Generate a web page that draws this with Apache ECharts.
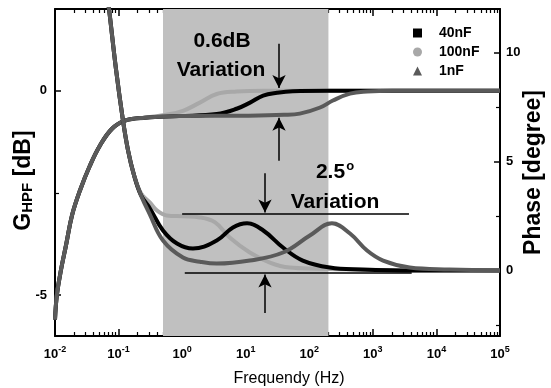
<!DOCTYPE html>
<html>
<head>
<meta charset="utf-8">
<script src="https://cdn.jsdelivr.net/npm/echarts@6/dist/echarts.min.js"></script>
<style>
html,body{margin:0;padding:0;background:#fff;}
#chart{width:551px;height:388px;}
</style>
</head>
<body>
<div id="chart"></div>
<script>
// ---------- data ----------
const seriesNames = ['40nF', '100nF', '1nF'];
const seriesColors = ['#000000', '#a8a8a8', '#5a5a5a'];

// Gain (dB) vs frequency (Hz)
const gainLowFreq = [[0.01,-5.6],[0.0107,-5.0],[0.0124,-4.39],[0.0149,-3.78],[0.0185,-3.05],[0.0247,-2.44],[0.0355,-1.83],[0.051,-1.34],[0.0789,-0.93],[0.126,-0.73],[0.26,-0.66]];
const gain40nF = [[0.9,-0.62],[3.5,-0.57],[7.2,-0.44],[11.7,-0.29],[18.8,-0.12],[31,-0.05],[55,-0.01],[200,0],[100000,0]];
const gain100nF = [[0.5,-0.6],[1.03,-0.49],[1.9,-0.29],[3.5,-0.08],[7.2,-0.02],[20,0],[100000,0]];
const gain1nF = [[0.9,-0.62],[10,-0.61],[40,-0.59],[71,-0.56],[148,-0.41],[235,-0.24],[437,-0.07],[810,-0.02],[2000,0],[100000,0]];

// Phase (degree) vs frequency (Hz)
const phaseHighFreqStart = [[0.05,15.5],[0.0708,12.0],[0.0912,9.22],[0.117,6.91],[0.1406,5.53],[0.175,4.38]];
const phase40nF = [[0.225,3.46],[0.31,2.86],[0.5,1.84],[0.83,1.24],[1.48,1.01],[3.5,1.38],[6.3,1.98],[10.5,2.17],[18.9,1.84],[38.6,1.06],[79,0.46],[211,0.14],[630,0.05],[5000,0],[100000,0]];
const phase100nF = [[0.225,3.55],[0.31,3.13],[0.40,2.76],[0.57,2.53],[1.03,2.49],[1.9,2.44],[3.3,2.21],[5.6,1.52],[11.6,0.83],[24,0.37],[49,0.14],[131,0.09],[630,0.05],[5000,0],[100000,0]];
const phase1nF = [[0.225,3.46],[0.31,2.58],[0.5,1.38],[1.03,0.6],[1.9,0.41],[3.5,0.32],[11.6,0.46],[38.6,0.83],[102,1.61],[227,2.17],[437,1.7],[810,0.92],[1450,0.46],[3800,0.14],[16000,0.05],[100000,0]];

// annotations (data coordinates)
const bandRange = [0.5, 200];
const phaseRefLines = [[[1.0, 2.63],[3700, 2.63]], [[1.1, -0.12],[4080, -0.12]]];
const phaseArrows = [[[20.1, 4.47],[20.1, 2.67]], [[20.1, -1.94],[20.1, -0.18]]];
const gainArrows = [[[33.4, 1.15],[33.4, 0.07]], [[33.4, -1.71],[33.4, -0.66]]];

// axis ticks
const xRangeExp = [-2, 5];
const gainRange = [-6, 2];
const gainMajor = [-5, 0];
const gainMinor = [-2.5];
const phaseRange = [-3, 12];
const phaseMajor = [0, 5, 10];
const phaseMinor = [-2.5, 2.5, 7.5];

// ---------- chart ----------
const FONT = '"Liberation Sans", Arial, sans-serif';
const minorExp = [];
for (let n = xRangeExp[0]; n < xRangeExp[1]; n++) {
  for (let k = 2; k <= 9; k++) minorExp.push(n + Math.log10(k));
}
const majorExp = [];
for (let n = xRangeExp[0]; n <= xRangeExp[1]; n++) majorExp.push(n);

const chart = echarts.init(document.getElementById('chart'), null, {renderer: 'canvas'});

const axisLineStyle = {show: true, onZero: false, lineStyle: {color: '#000', width: 2}};
const noLine = {show: false, onZero: false};

function lineSeries(name, idx, yIdx, data, extra) {
  return Object.assign({
    name: name,
    type: 'line',
    xAxisIndex: 0,
    yAxisIndex: yIdx,
    data: data,
    showSymbol: false,
    symbol: 'none',
    smooth: 0.4,
    lineStyle: {color: seriesColors[idx], width: 4},
    itemStyle: {color: seriesColors[idx]},
    clip: true,
    silent: true,
    animation: false
  }, extra || {});
}

function arrowLines(pairs, withArrow) {
  return pairs.map(p => [
    {coord: p[0], symbol: 'none'},
    {coord: p[1], symbol: withArrow ? 'arrow' : 'none'}
  ]);
}

const markLineBase = {
  silent: true,
  animation: false,
  symbolSize: [10, 13],
  label: {show: false},
  lineStyle: {color: '#000', width: 1.5, type: 'solid'}
};

const option = {
  animation: false,
  backgroundColor: '#fff',
  grid: {left: 55, top: 9, right: 51, bottom: 52, containLabel: false, outerBoundsMode: 'none'},
  legend: {
    orient: 'vertical',
    left: 408,
    top: 21,
    itemWidth: 9,
    itemHeight: 9,
    itemGap: 5,
    selectedMode: false,
    textStyle: {fontFamily: FONT, fontWeight: 'bold', fontSize: 14, color: '#000', padding: [0, 0, 0, 12]},
    data: [
      {name: '40nF', icon: 'rect'},
      {name: '100nF', icon: 'circle'},
      {name: '1nF', icon: 'triangle'}
    ]
  },
  xAxis: [
    {
      type: 'log', logBase: 10, min: 0.01, max: 100000, position: 'bottom',
      splitNumber: 7,
      axisLine: axisLineStyle,
      axisTick: {show: true, inside: true, length: 7, lineStyle: {color: '#000', width: 1.5}},
      minorTick: {show: false},
      splitLine: {show: false},
      axisLabel: {
        margin: 9,
        formatter: v => '{b|10}{s|' + Math.round(Math.log10(v)) + '}',
        rich: {
          b: {fontFamily: FONT, fontWeight: 'bold', fontSize: 13, color: '#000'},
          s: {fontFamily: FONT, fontWeight: 'bold', fontSize: 9, color: '#000', padding: [0, 0, 10, 0]}
        }
      },
      name: 'Frequendy (Hz)',
      nameLocation: 'middle',
      nameGap: 35,
      nameMoveOverlap: false,
      nameTextStyle: {fontFamily: FONT, fontSize: 16, color: '#000', padding: [0, 0, 0, 23]}
    },
    {
      type: 'value', min: xRangeExp[0], max: xRangeExp[1], position: 'bottom',
      axisLine: noLine,
      axisTick: {show: true, inside: true, length: 4, customValues: minorExp, lineStyle: {color: '#000', width: 1.2}},
      axisLabel: {show: false}, splitLine: {show: false}
    },
    {
      type: 'value', min: xRangeExp[0], max: xRangeExp[1], position: 'top',
      axisLine: axisLineStyle,
      axisTick: {show: true, inside: true, length: 7, customValues: majorExp, lineStyle: {color: '#000', width: 1.5}},
      axisLabel: {show: false}, splitLine: {show: false}
    },
    {
      type: 'value', min: xRangeExp[0], max: xRangeExp[1], position: 'top',
      axisLine: noLine,
      axisTick: {show: true, inside: true, length: 4, customValues: minorExp, lineStyle: {color: '#000', width: 1.2}},
      axisLabel: {show: false}, splitLine: {show: false}
    }
  ],
  yAxis: [
    {
      type: 'value', min: gainRange[0], max: gainRange[1], position: 'left',
      axisLine: axisLineStyle,
      axisTick: {show: true, inside: true, length: 6, customValues: gainMajor, lineStyle: {color: '#000', width: 1.5}},
      axisLabel: {customValues: gainMajor, margin: 8, fontFamily: FONT, fontWeight: 'bold', fontSize: 13, color: '#000'},
      splitLine: {show: false},
      name: '{g|G}{s|HPF}{g| [dB]}',
      nameLocation: 'middle',
      nameRotate: 90,
      nameGap: 20,
      nameMoveOverlap: false,
      nameTextStyle: {
        padding: [0, 16, 0, 0],
        rich: {
          g: {fontFamily: FONT, fontWeight: 'bold', fontSize: 23, color: '#000'},
          s: {fontFamily: FONT, fontWeight: 'bold', fontSize: 15, color: '#000', padding: [8, 0, 0, 0]}
        }
      }
    },
    {
      type: 'value', min: phaseRange[0], max: phaseRange[1], position: 'right',
      axisLine: axisLineStyle,
      axisTick: {show: true, inside: true, length: 6, customValues: phaseMajor, lineStyle: {color: '#000', width: 1.5}},
      axisLabel: {customValues: phaseMajor, margin: 6, fontFamily: FONT, fontWeight: 'bold', fontSize: 13, color: '#000'},
      splitLine: {show: false},
      name: 'Phase [degree]',
      nameLocation: 'middle',
      nameRotate: 90,
      nameGap: 22,
      nameMoveOverlap: false,
      nameTextStyle: {fontFamily: FONT, fontWeight: 'bold', fontSize: 23, color: '#000'}
    },
    {
      type: 'value', min: gainRange[0], max: gainRange[1], position: 'left',
      axisLine: noLine,
      axisTick: {show: true, inside: true, length: 4, customValues: gainMinor, lineStyle: {color: '#000', width: 1.2}},
      axisLabel: {show: false}, splitLine: {show: false}
    },
    {
      type: 'value', min: phaseRange[0], max: phaseRange[1], position: 'right',
      axisLine: noLine,
      axisTick: {show: true, inside: true, length: 4, customValues: phaseMinor, lineStyle: {color: '#000', width: 1.2}},
      axisLabel: {show: false}, splitLine: {show: false}
    }
  ],
  series: [
    lineSeries('100nF', 1, 0, gainLowFreq.concat(gain100nF), {
      markArea: {
        silent: true,
        itemStyle: {color: '#c0c0c0', opacity: 1},
        data: [[{xAxis: bandRange[0]}, {xAxis: bandRange[1]}]]
      }
    }),
    lineSeries('40nF', 0, 0, gainLowFreq.concat(gain40nF)),
    lineSeries('1nF', 2, 0, gainLowFreq.concat(gain1nF), {
      markLine: Object.assign({}, markLineBase, {data: arrowLines(gainArrows, true)})
    }),
    lineSeries('100nF', 1, 1, phaseHighFreqStart.concat(phase100nF)),
    lineSeries('40nF', 0, 1, phaseHighFreqStart.concat(phase40nF)),
    lineSeries('1nF', 2, 1, phaseHighFreqStart.concat(phase1nF), {
      markLine: Object.assign({}, markLineBase, {
        data: arrowLines(phaseArrows, true).concat(arrowLines(phaseRefLines, false))
      })
    })
  ],
  graphic: [
    {type: 'text', z: 100, style: {text: '0.6dB', x: 222, y: 41, align: 'center', verticalAlign: 'middle', font: 'bold 21px ' + FONT, fill: '#000'}},
    {type: 'text', z: 100, style: {text: 'Variation', x: 221, y: 70, align: 'center', verticalAlign: 'middle', font: 'bold 21px ' + FONT, fill: '#000'}},
    {type: 'text', z: 100, style: {
      text: '{n|2.5}{o|o}', x: 335, y: 172, align: 'center', verticalAlign: 'middle',
      rich: {
        n: {fontFamily: FONT, fontWeight: 'bold', fontSize: 21, fill: '#000'},
        o: {fontFamily: FONT, fontWeight: 'bold', fontSize: 13, fill: '#000', padding: [0, 0, 12, 1]}
      }
    }},
    {type: 'text', z: 100, style: {text: 'Variation', x: 335, y: 202, align: 'center', verticalAlign: 'middle', font: 'bold 21px ' + FONT, fill: '#000'}}
  ]
};

chart.setOption(option);
</script>
</body>
</html>
